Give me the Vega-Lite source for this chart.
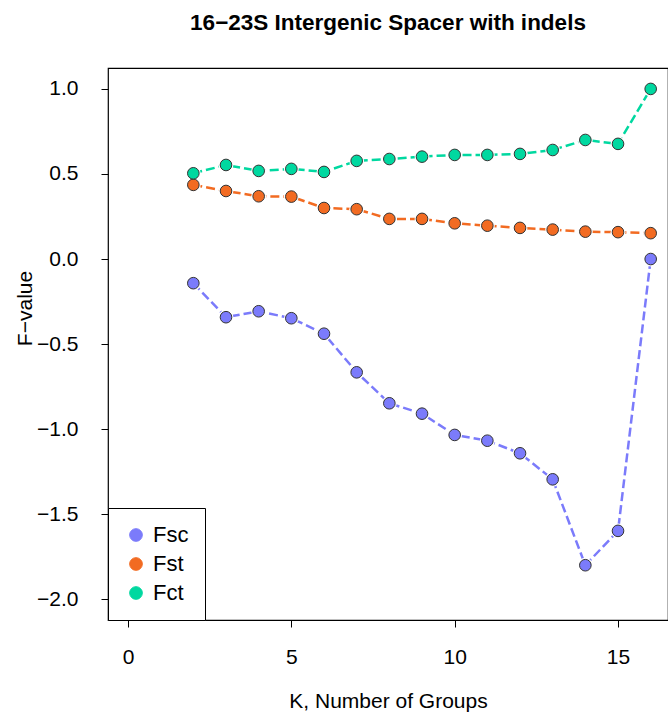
{
  "$schema": "https://vega.github.io/schema/vega-lite/v6.json",
  "width": 560,
  "height": 552,
  "autosize": {"type": "none"},
  "padding": {"left": 108, "top": 68, "right": 0, "bottom": 99},
  "background": "white",
  "title": {
    "text": "16−23S Intergenic Spacer with indels",
    "font": "Liberation Sans",
    "fontSize": 22.5,
    "fontWeight": "bold",
    "color": "black",
    "anchor": "middle",
    "offset": 34
  },
  "config": {
    "font": "Liberation Sans",
    "view": {"stroke": "black", "strokeWidth": 1.2},
    "axis": {
      "domain": false,
      "grid": false,
      "tickColor": "black",
      "tickSize": 7,
      "tickWidth": 1,
      "labelFont": "Liberation Sans",
      "labelFontSize": 21,
      "labelColor": "black",
      "titleFont": "Liberation Sans",
      "titleFontSize": 21,
      "titleFontWeight": "normal",
      "titleColor": "black"
    },
    "legend": {
      "labelFont": "Liberation Sans",
      "labelFontSize": 22,
      "labelColor": "black"
    }
  },
  "data": {
    "values": [
      {"K": 2, "series": "Fsc", "F": -0.142},
      {"K": 3, "series": "Fsc", "F": -0.342},
      {"K": 4, "series": "Fsc", "F": -0.307},
      {"K": 5, "series": "Fsc", "F": -0.348},
      {"K": 6, "series": "Fsc", "F": -0.439},
      {"K": 7, "series": "Fsc", "F": -0.666},
      {"K": 8, "series": "Fsc", "F": -0.848},
      {"K": 9, "series": "Fsc", "F": -0.909},
      {"K": 10, "series": "Fsc", "F": -1.034},
      {"K": 11, "series": "Fsc", "F": -1.068},
      {"K": 12, "series": "Fsc", "F": -1.142},
      {"K": 13, "series": "Fsc", "F": -1.295},
      {"K": 14, "series": "Fsc", "F": -1.8},
      {"K": 15, "series": "Fsc", "F": -1.598},
      {"K": 16, "series": "Fsc", "F": 0.0},
      {"K": 2, "series": "Fst", "F": 0.436},
      {"K": 3, "series": "Fst", "F": 0.4},
      {"K": 4, "series": "Fst", "F": 0.369},
      {"K": 5, "series": "Fst", "F": 0.367},
      {"K": 6, "series": "Fst", "F": 0.3},
      {"K": 7, "series": "Fst", "F": 0.293},
      {"K": 8, "series": "Fst", "F": 0.236},
      {"K": 9, "series": "Fst", "F": 0.236},
      {"K": 10, "series": "Fst", "F": 0.21},
      {"K": 11, "series": "Fst", "F": 0.196},
      {"K": 12, "series": "Fst", "F": 0.183},
      {"K": 13, "series": "Fst", "F": 0.173},
      {"K": 14, "series": "Fst", "F": 0.161},
      {"K": 15, "series": "Fst", "F": 0.158},
      {"K": 16, "series": "Fst", "F": 0.152},
      {"K": 2, "series": "Fct", "F": 0.504},
      {"K": 3, "series": "Fct", "F": 0.553},
      {"K": 4, "series": "Fct", "F": 0.518},
      {"K": 5, "series": "Fct", "F": 0.53},
      {"K": 6, "series": "Fct", "F": 0.512},
      {"K": 7, "series": "Fct", "F": 0.577},
      {"K": 8, "series": "Fct", "F": 0.588},
      {"K": 9, "series": "Fct", "F": 0.602},
      {"K": 10, "series": "Fct", "F": 0.612},
      {"K": 11, "series": "Fct", "F": 0.612},
      {"K": 12, "series": "Fct", "F": 0.618},
      {"K": 13, "series": "Fct", "F": 0.641},
      {"K": 14, "series": "Fct", "F": 0.7},
      {"K": 15, "series": "Fct", "F": 0.677},
      {"K": 16, "series": "Fct", "F": 1.0}
    ]
  },
  "encoding": {
    "x": {
      "field": "K",
      "type": "quantitative",
      "scale": {"domain": [-0.612, 16.53], "nice": false, "zero": false},
      "axis": {
        "values": [0, 5, 10, 15],
        "format": "d",
        "title": "K, Number of Groups",
        "labelPadding": 19,
        "titlePadding": 23
      }
    },
    "y": {
      "field": "F",
      "type": "quantitative",
      "scale": {"domain": [-2.122, 1.123], "nice": false, "zero": false},
      "axis": {
        "values": [-2, -1.5, -1, -0.5, 0, 0.5, 1],
        "format": ".1f",
        "title": "F−value",
        "labelPadding": 23,
        "titleX": -83,
        "titleY": 240,
        "titleAlign": "center",
        "titleBaseline": "middle",
        "titleAngle": -90
      }
    }
  },
  "layer": [
    {
      "mark": {"type": "line", "strokeWidth": 2.5, "strokeDash": [9, 4]},
      "encoding": {
        "color": {
          "field": "series",
          "type": "nominal",
          "scale": {"domain": ["Fsc", "Fst", "Fct"], "range": ["#7B7BFB", "#F26B22", "#00D8A0"]}
        },
        "detail": {"field": "series"}
      }
    },
    {
      "mark": {"type": "circle", "color": "#ffffff", "fill": "#ffffff", "opacity": 1, "fillOpacity": 1, "size": 220}
    },
    {
      "mark": {"type": "point", "filled": true, "opacity": 1, "size": 135, "stroke": "#333333", "strokeWidth": 1},
      "encoding": {
        "color": {
          "field": "series",
          "type": "nominal",
          "scale": {"domain": ["Fsc", "Fst", "Fct"], "range": ["#7B7BFB", "#F26B22", "#00D8A0"]},
          "legend": {
            "title": null,
            "orient": "bottom-left",
            "offset": 0,
            "strokeColor": "black",
            "fillColor": "white",
            "padding": 16,
            "symbolType": "circle",
            "symbolSize": 160,
            "symbolOffset": 1,
            "labelOffset": 6,
            "rowPadding": 7,
            "symbolStrokeColor": "#333333",
            "symbolStrokeWidth": 1,
            "encode": {
              "symbols": {
                "update": {
                  "stroke": {"value": "#333333"},
                  "strokeWidth": {"value": 1},
                  "opacity": {"value": 1}
                }
              }
            }
          }
        }
      }
    }
  ]
}
